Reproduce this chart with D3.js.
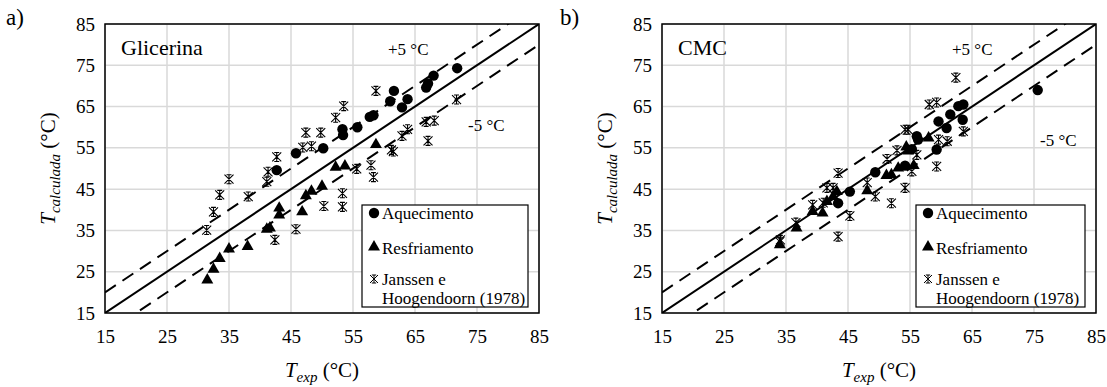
<!DOCTYPE html>
<html>
<head>
<meta charset="utf-8">
<script src="https://cdn.jsdelivr.net/npm/d3@7"></script>
<style>
  body { margin: 0; background: #fff; }
  text { font-family: "Liberation Serif", "Times New Roman", serif; fill: #000; }
</style>
</head>
<body>
<div class="chart"></div>
<script>
// axis ticks (both axes, both panels)
var ticks = [15, 25, 35, 45, 55, 65, 75, 85];

// panel a) Glicerina  [T_exp, T_calculada]
var glicAquecimento = [[42.7, 49.6], [45.8, 53.7], [50.2, 54.9], [53.3, 59.5], [53.4, 58.1], [55.7, 60.0],
  [57.7, 62.5], [58.3, 62.9], [61.0, 66.3], [61.6, 68.8], [62.9, 64.8], [63.8, 66.8],
  [66.8, 69.6], [67.1, 70.6], [68.0, 72.5], [71.8, 74.3]];
var glicResfriamento = [[31.5, 23.0], [32.5, 25.6], [33.5, 28.2], [35.0, 30.5], [38.0, 31.1], [41.1, 35.3],
  [41.6, 35.6], [43.1, 40.4], [43.1, 38.7], [46.8, 39.5], [47.4, 43.4], [48.3, 44.5],
  [50.0, 45.7], [52.2, 50.3], [53.7, 50.6], [58.7, 55.8]];
var glicJanssen = [[31.4, 35.1], [32.5, 39.5], [33.5, 43.6], [35.0, 47.4], [38.1, 43.2], [41.1, 46.8],
  [41.3, 49.2], [42.7, 52.8], [42.4, 32.7], [45.8, 35.3], [46.9, 55.1], [47.4, 58.7],
  [48.3, 55.4], [49.8, 58.7], [50.3, 40.9], [52.2, 62.3], [53.5, 65.1], [53.3, 44.0],
  [53.3, 40.7], [55.6, 49.9], [57.9, 50.8], [58.3, 47.9], [58.7, 68.8], [61.2, 54.5],
  [61.5, 54.1], [62.9, 57.9], [63.8, 59.5], [66.8, 61.3], [68.1, 61.6], [67.1, 56.7],
  [71.7, 66.7]];

// panel b) CMC
var cmcAquecimento = [[43.4, 41.6], [45.3, 44.4], [49.4, 49.1], [54.2, 50.7], [55.3, 54.7], [56.1, 57.8],
  [56.3, 57.0], [59.3, 54.6], [59.6, 61.4], [60.9, 59.8], [61.5, 63.1], [62.8, 65.1],
  [63.5, 61.8], [63.6, 65.5], [75.6, 69.0]];
var cmcResfriamento = [[34.0, 31.5], [36.7, 35.6], [39.3, 39.6], [40.9, 39.2], [41.6, 42.0], [42.6, 43.2],
  [43.2, 44.4], [48.1, 44.6], [51.2, 48.3], [52.0, 48.5], [53.1, 50.1], [54.4, 55.2],
  [54.7, 54.2], [55.6, 50.7], [58.0, 57.4]];
var cmcJanssen = [[34.0, 32.3], [34.1, 32.7], [36.6, 36.9], [39.3, 41.2], [41.0, 41.7], [41.6, 45.3],
  [42.6, 45.3], [43.4, 48.9], [43.4, 33.5], [45.3, 38.5], [48.1, 46.6], [49.4, 43.2],
  [51.3, 52.3], [52.0, 41.6], [52.9, 54.4], [54.2, 45.3], [54.2, 59.4], [54.7, 59.4],
  [55.3, 49.3], [56.1, 53.3], [58.1, 65.5], [59.3, 66.0], [59.3, 50.5], [59.6, 57.0],
  [61.0, 56.6], [62.4, 72.0], [63.6, 59.0]];

var legendLabels = ["Aquecimento", "Resfriamento", ["Janssen e", "Hoogendoorn (1978)"]];

var svgWidth = 1107;
var svgHeight = 387;

var svg = d3.select('.chart')
  .append('svg')
    .attr('width', svgWidth)
    .attr('height', svgHeight);

// asterisk marker like Excel's "star"
function starPath(s) {
  return 'M' + (-s) + ',' + (-s) + 'L' + s + ',' + s +
    'M' + s + ',' + (-s) + 'L' + (-s) + ',' + s +
    'M0,' + (-s) + 'L0,' + s +
    'M' + (-s * 0.55) + ',' + (-s) + 'L' + (s * 0.55) + ',' + (-s) +
    'M' + (-s * 0.55) + ',' + s + 'L' + (s * 0.55) + ',' + s;
}
var triPath = d3.symbol().type(d3.symbolTriangle).size(62)();

function drawPanel(opts) {
  var left = opts.left, top = 24, width = 434, height = 289;
  var g = svg.append('g').attr('transform', 'translate(' + left + ',' + top + ')');

  var x = d3.scaleLinear().domain([15, 85]).range([0, width]);
  var y = d3.scaleLinear().domain([15, 85]).range([height, 0]);

  // gridlines
  g.selectAll('.vgrid').data(ticks).enter().append('line')
    .attr('x1', function(d) { return x(d); }).attr('x2', function(d) { return x(d); })
    .attr('y1', 0).attr('y2', height)
    .attr('stroke', '#d9d9d9').attr('stroke-width', 1.5);
  g.selectAll('.hgrid').data(ticks).enter().append('line')
    .attr('y1', function(d) { return y(d); }).attr('y2', function(d) { return y(d); })
    .attr('x1', 0).attr('x2', width)
    .attr('stroke', '#d9d9d9').attr('stroke-width', 1.5);

  // axes: labels only
  var bottomAxis = d3.axisBottom(x).tickValues(ticks).tickSize(0).tickPadding(17);
  var leftAxis = d3.axisLeft(y).tickValues(ticks).tickSize(0).tickPadding(10);
  var xa = g.append('g').attr('transform', 'translate(0,' + height + ')').call(bottomAxis);
  var ya = g.append('g').call(leftAxis);
  [xa, ya].forEach(function(a) {
    a.select('.domain').remove();
    a.selectAll('text').attr('font-size', 19)
      .attr('font-family', '"Liberation Serif", "Times New Roman", serif').attr('fill', '#000');
  });

  // label box
  g.append('text').attr('x', 16).attr('y', 31).attr('font-size', 22).text(opts.name);

  // reference lines y = x, y = x +/- 5
  var clip = 'clip-' + opts.id;
  g.append('clipPath').attr('id', clip).append('rect').attr('width', width).attr('height', height);
  var lines = [{ off: 0, dash: null }, { off: 5, dash: '13,8' }, { off: -5, dash: '13,8' }];
  g.selectAll('.ref').data(lines).enter().append('line')
    .attr('clip-path', 'url(#' + clip + ')')
    .attr('x1', x(15)).attr('y1', function(d) { return y(15 + d.off); })
    .attr('x2', x(85)).attr('y2', function(d) { return y(85 + d.off); })
    .attr('stroke', '#000').attr('stroke-width', 2)
    .attr('stroke-dasharray', function(d) { return d.dash; });

  g.append('text').attr('x', opts.plusPos[0]).attr('y', opts.plusPos[1]).attr('font-size', 17).text('+5 °C');
  g.append('text').attr('x', opts.minusPos[0]).attr('y', opts.minusPos[1]).attr('font-size', 17).text('-5 °C');

  // markers
  g.selectAll('.jan').data(opts.jan).enter().append('path')
    .attr('transform', function(d) { return 'translate(' + x(d[0]) + ',' + y(d[1]) + ')'; })
    .attr('d', starPath(4.5)).attr('stroke', '#000').attr('stroke-width', 1.1).attr('fill', 'none');
  g.selectAll('.res').data(opts.res).enter().append('path')
    .attr('transform', function(d) { return 'translate(' + x(d[0]) + ',' + y(d[1]) + ')'; })
    .attr('d', triPath).attr('fill', '#000');
  g.selectAll('.aq').data(opts.aq).enter().append('circle')
    .attr('cx', function(d) { return x(d[0]); })
    .attr('cy', function(d) { return y(d[1]); })
    .attr('r', 5.2).attr('fill', '#000');

  // legend
  var lg = g.append('g').attr('transform', 'translate(' + opts.legend[0] + ',' + opts.legend[1] + ')');
  lg.append('rect').attr('width', opts.legend[2]).attr('height', 102)
    .attr('fill', '#fff').attr('stroke', '#000').attr('stroke-width', 1.2);
  lg.append('circle').attr('cx', 12).attr('cy', 8).attr('r', 5.2);
  lg.append('text').attr('x', 20).attr('y', 14).attr('font-size', 17).text(legendLabels[0]);
  lg.append('path').attr('transform', 'translate(12,42)').attr('d', triPath);
  lg.append('text').attr('x', 20).attr('y', 49).attr('font-size', 17).text(legendLabels[1]);
  lg.append('path').attr('transform', 'translate(12,74)').attr('d', starPath(4))
    .attr('stroke', '#000').attr('stroke-width', 1).attr('fill', 'none');
  lg.append('text').attr('x', 20).attr('y', 80).attr('font-size', 17).text(legendLabels[2][0]);
  lg.append('text').attr('x', 20).attr('y', 99).attr('font-size', 17).text(legendLabels[2][1]);

  // plot border
  g.append('rect').attr('width', width).attr('height', height)
    .attr('fill', 'none').attr('stroke', '#000').attr('stroke-width', 1.5);

  // axis titles
  var xt = g.append('text').attr('x', width / 2).attr('y', height + 64)
    .attr('text-anchor', 'middle').attr('font-size', 21);
  xt.append('tspan').attr('font-style', 'italic').text('T');
  xt.append('tspan').attr('font-style', 'italic').attr('font-size', 15).attr('dy', 5).text('exp');
  xt.append('tspan').attr('dy', -5).text(' (°C)');

  var yt = g.append('text').attr('transform', 'translate(' + (-50) + ',' + (height / 2) + ') rotate(-90)')
    .attr('text-anchor', 'middle').attr('font-size', 21);
  yt.append('tspan').attr('font-style', 'italic').text('T');
  yt.append('tspan').attr('font-style', 'italic').attr('font-size', 15).attr('dy', 5).text('calculada');
  yt.append('tspan').attr('dy', -5).text(' (°C)');

  svg.append('text').attr('x', opts.tag[0]).attr('y', opts.tag[1]).attr('font-size', 23).text(opts.tagText);
}

drawPanel({ id: 'a', left: 105, name: 'Glicerina', aq: glicAquecimento, res: glicResfriamento, jan: glicJanssen,
  plusPos: [283, 31], minusPos: [363, 107], legend: [257, 181, 166], tag: [6, 25], tagText: 'a)' });
drawPanel({ id: 'b', left: 662, name: 'CMC', aq: cmcAquecimento, res: cmcResfriamento, jan: cmcJanssen,
  plusPos: [290, 31], minusPos: [378, 122], legend: [254, 181, 169], tag: [560, 25], tagText: 'b)' });
</script>
</body>
</html>
